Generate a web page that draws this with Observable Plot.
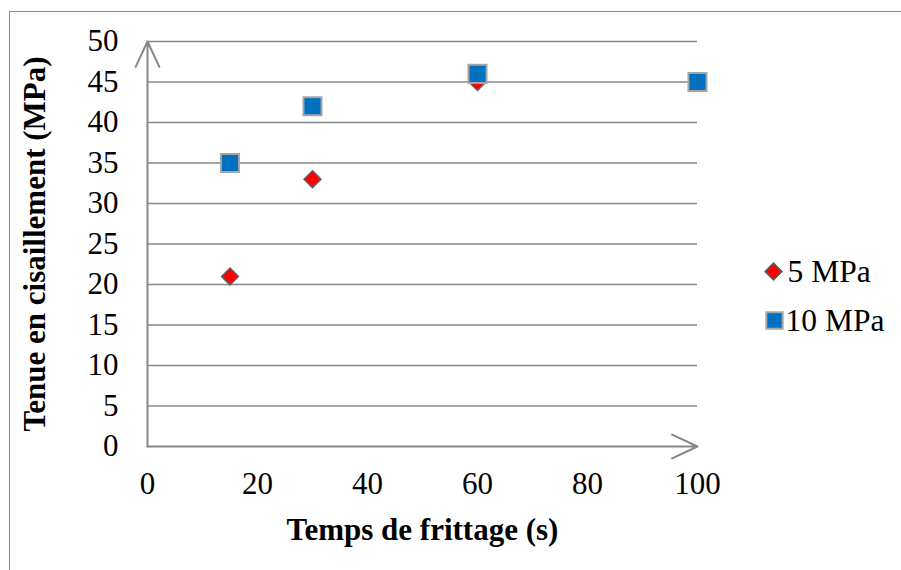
<!DOCTYPE html>
<html>
<head>
<meta charset="utf-8">
<script src="https://cdn.jsdelivr.net/npm/d3@7"></script>
<script src="https://cdn.jsdelivr.net/npm/@observablehq/plot@0.6"></script>
<style>
  html, body { margin: 0; padding: 0; background: #fff; }
  #wrap { position: relative; width: 901px; height: 570px; overflow: hidden; }
  #border { position: absolute; left: 9px; top: 11px; right: -5px; bottom: -5px;
            border-top: 1.5px solid #8c8c8c; border-left: 1.5px solid #8c8c8c; pointer-events: none; }
  #chart { position: absolute; left: 0; top: 0; }
  #chart svg text { font-family: 'Liberation Serif', 'Times New Roman', serif; }
</style>
</head>
<body>
<div id="wrap"><div id="chart"></div><div id="border"></div></div>
<script>
// Data
const seriesNames = ["5 MPa", "10 MPa"];
const times5 = [15, 30, 60, 100];
const values5 = [21, 33, 45, 45];
const times10 = [15, 30, 60, 100];
const values10 = [35, 42, 46, 45];
const xTicks = [0, 20, 40, 60, 80, 100];
const yTicks = [0, 5, 10, 15, 20, 25, 30, 35, 40, 45, 50];
const xDomain = [0, 100];
const yDomain = [0, 50];
const xLabel = "Temps de frittage (s)";
const yLabel = "Tenue en cisaillement (MPa)";

const s5 = times5.map((t, i) => ({x: t, y: values5[i]}));
const s10 = times10.map((t, i) => ({x: t, y: values10[i]}));

const font = "'Liberation Serif', 'Times New Roman', serif";
const gray = "#878787";

const chart = Plot.plot({
  width: 901,
  height: 570,
  marginLeft: 147,
  marginRight: 204,
  marginTop: 41,
  marginBottom: 124,
  style: {fontFamily: font, fontSize: "31px", color: "#000", background: "transparent"},
  x: {domain: xDomain, axis: null},
  y: {domain: yDomain, axis: null},
  marks: [
    Plot.ruleY(yTicks.filter(v => v > 0), {stroke: gray, strokeWidth: 1.6}),
    Plot.arrow([{x1: xDomain[0], y1: yDomain[0], x2: xDomain[0], y2: yDomain[1]}],
      {x1: "x1", y1: "y1", x2: "x2", y2: "y2", stroke: gray, strokeWidth: 2, headLength: 21, headAngle: 50}),
    Plot.arrow([{x1: xDomain[0], y1: yDomain[0], x2: xDomain[1], y2: yDomain[0]}],
      {x1: "x1", y1: "y1", x2: "x2", y2: "y2", stroke: gray, strokeWidth: 2, headLength: 21, headAngle: 50}),
    Plot.axisX({ticks: xTicks, tickSize: 0, tickPadding: 25, fontSize: 31, fontFamily: font, label: null}),
    Plot.axisY({ticks: yTicks, tickSize: 0, tickPadding: 29, fontSize: 31, fontFamily: font, label: null}),
    Plot.text([xLabel], {frameAnchor: "bottom", dy: 84, fontWeight: "bold", fontSize: 31, fontFamily: font, textAnchor: "middle", lineAnchor: "middle"}),
    Plot.text([yLabel], {frameAnchor: "left", dx: -112, rotate: -90, fontWeight: "bold", fontSize: 31, fontFamily: font, textAnchor: "middle", lineAnchor: "middle"}),
    Plot.dot(s5, {x: "x", y: "y", symbol: "diamond2", r: 7.6, fill: "#ff0000", stroke: "#5f5f5f", strokeWidth: 1.5}),
    Plot.dot(s10, {x: "x", y: "y", symbol: "square", r: 10.2, fill: "#0070c0", stroke: "#a6a6a6", strokeWidth: 2}),
    // legend
    Plot.dot([seriesNames[0]], {frameAnchor: "right", dx: 76, dy: 27.5, symbol: "diamond2", r: 7.6, fill: "#ff0000", stroke: "#5f5f5f", strokeWidth: 1.5}),
    Plot.text([seriesNames[0]], {frameAnchor: "right", dx: 90, dy: 27.5, text: d => d, textAnchor: "start", fontSize: 31.5, fontFamily: font, lineAnchor: "middle"}),
    Plot.dot([seriesNames[1]], {frameAnchor: "right", dx: 77, dy: 76.5, symbol: "square", r: 9.2, fill: "#0070c0", stroke: "#a6a6a6", strokeWidth: 2}),
    Plot.text([seriesNames[1]], {frameAnchor: "right", dx: 88, dy: 76.5, text: d => d, textAnchor: "start", fontSize: 31.5, fontFamily: font, lineAnchor: "middle"})
  ]
});
document.getElementById("chart").appendChild(chart);
</script>
</body>
</html>
